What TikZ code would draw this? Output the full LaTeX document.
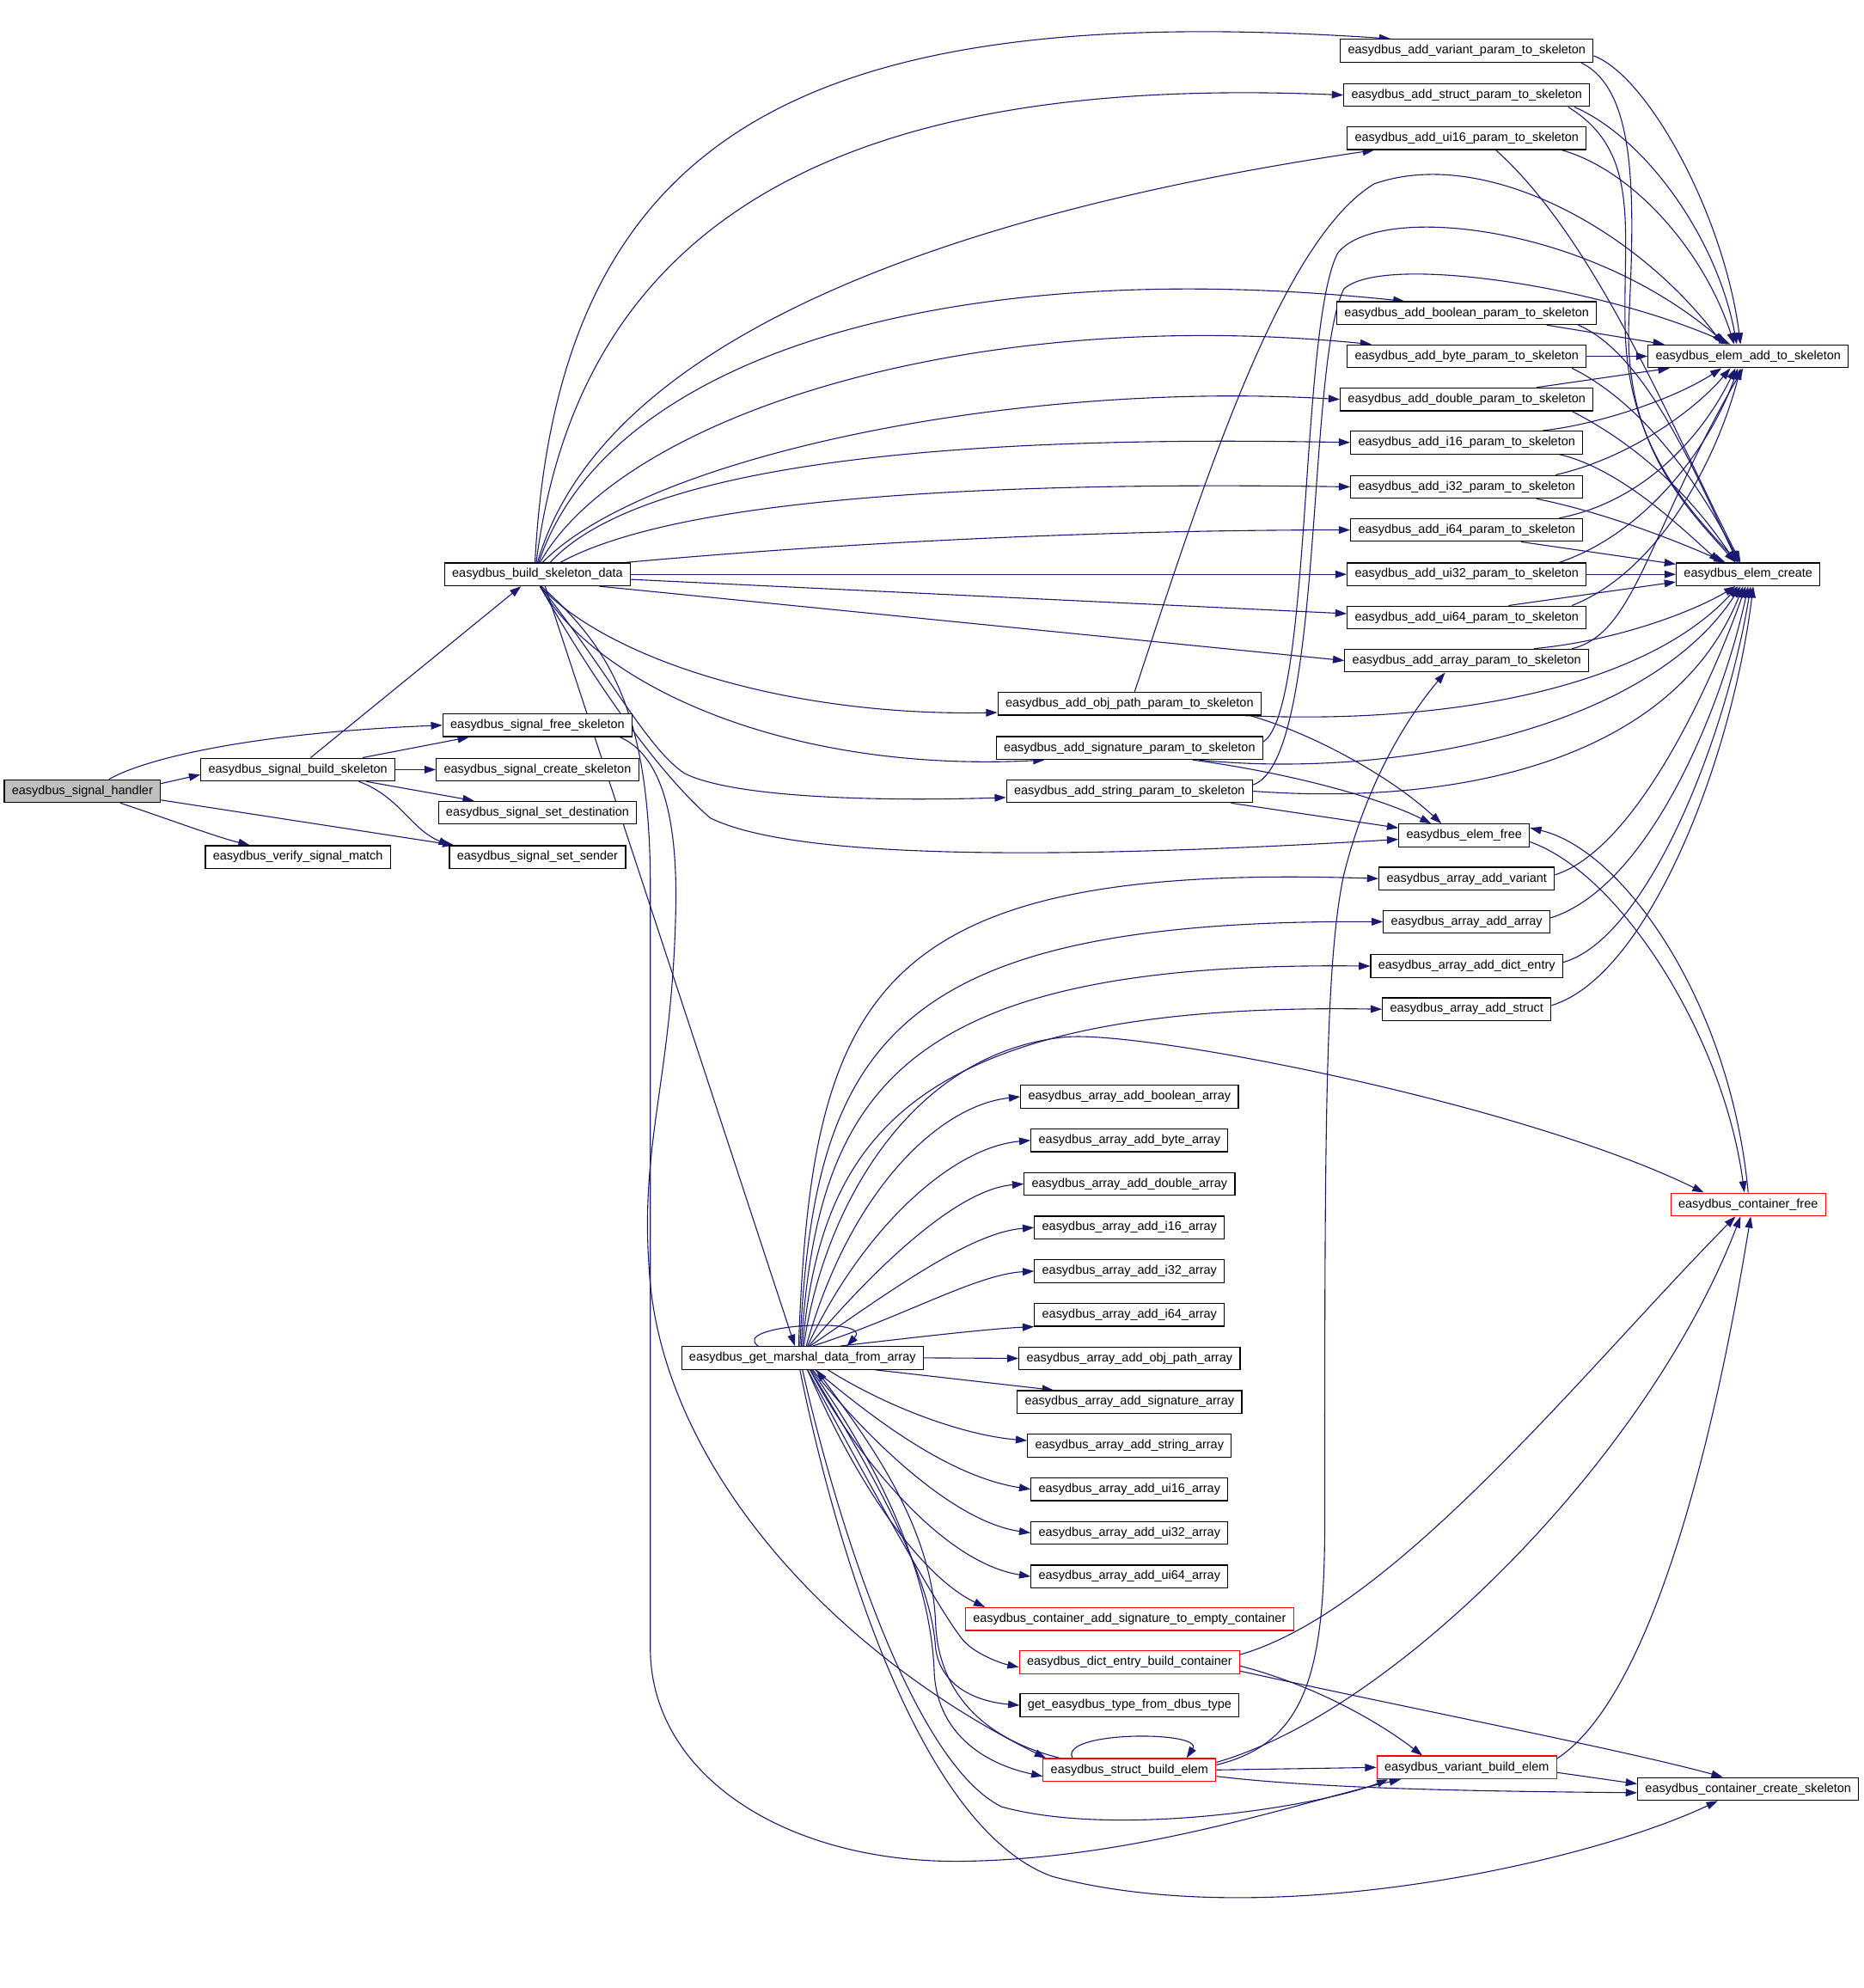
\documentclass[tikz,border=0pt]{standalone}
\usepackage{fontspec}
\setmainfont{Liberation Sans}
\usetikzlibrary{arrows.meta}

\definecolor{callblue}{HTML}{191970}
\definecolor{rootgray}{HTML}{BFBFBF}

\pgfdeclarelayer{edges}
\pgfsetlayers{edges,main}

\tikzset{
  fn/.style={draw=black, fill=white, line width=0.8pt, inner xsep=6pt, inner ysep=0pt,
    minimum height=18pt, font=\fontsize{9.8}{11}\selectfont},
  fnred/.style={fn, draw=red},
  fnroot/.style={fn, fill=rootgray},
  call/.style={draw=callblue, line width=0.75pt, -{Triangle[length=9pt,width=6pt]}},
}

\begin{document}
\begin{tikzpicture}[x=1pt,y=-1pt]
\useasboundingbox (0,0) rectangle (1470,1568);

% callers on the left
\node[fnroot] (handler) at (65,624) {easydbus\_signal\_handler};
\node[fn] (sigbuild) at (235,607) {easydbus\_signal\_build\_skeleton};
\node[fn] (verify) at (235,676) {easydbus\_verify\_signal\_match};
\node[fn] (bsd) at (424,453) {easydbus\_build\_skeleton\_data};
\node[fn] (sigfree) at (424,572) {easydbus\_signal\_free\_skeleton};
\node[fn] (sigcreate) at (424,607) {easydbus\_signal\_create\_skeleton};
\node[fn] (sigdest) at (424,641) {easydbus\_signal\_set\_destination};
\node[fn] (sigsender) at (424,676) {easydbus\_signal\_set\_sender};

% the param_to_skeleton column
\foreach \key/\txt/\ypos in {pvariant/variant/40, pstruct/struct/75, pui16/ui16/109,
    pboolean/boolean/247, pbyte/byte/281, pdouble/double/315, pi16/i16/349,
    pi32/i32/384, pi64/i64/418, pui32/ui32/453, pui64/ui64/487, parray/array/521}
  \node[fn] (\key) at (1157,\ypos) {easydbus\_add\_\txt\_param\_to\_skeleton};

\node[fn] (pobjpath) at (891,555) {easydbus\_add\_obj\_path\_param\_to\_skeleton};
\node[fn] (psignature) at (891,590) {easydbus\_add\_signature\_param\_to\_skeleton};
\node[fn] (pstring) at (891,624) {easydbus\_add\_string\_param\_to\_skeleton};
\node[fn] (elemfree) at (1155,659) {easydbus\_elem\_free};

\foreach \key/\txt/\ypos in {avariant/variant/693, aarray/array/727,
    adict/dict\_entry/762, astruct/struct/796}
  \node[fn] (\key) at (1157,\ypos) {easydbus\_array\_add\_\txt};

\node[fn] (marshal) at (633,1071) {easydbus\_get\_marshal\_data\_from\_array};

\foreach \key/\txt [count=\i from 0] in {abool/boolean, abyte/byte, adouble/double,
    ai16/i16, ai32/i32, ai64/i64, aobjpath/obj\_path, asignature/signature,
    astring/string, aui16/ui16, aui32/ui32, aui64/ui64}
  \node[fn] (\key) at (891,{865+34.4*\i}) {easydbus\_array\_add\_\txt\_array};

\node[fnred] (csig) at (891,1277) {easydbus\_container\_add\_signature\_to\_empty\_container};
\node[fnred] (dictbuild) at (891,1311) {easydbus\_dict\_entry\_build\_container};
\node[fn] (gettype) at (891,1345) {get\_easydbus\_type\_from\_dbus\_type};
\node[fnred] (structbuild) at (891,1396) {easydbus\_struct\_build\_elem};
\node[fnred] (variantbuild) at (1157,1394) {easydbus\_variant\_build\_elem};

% callees on the right
\node[fn] (addtoskel) at (1379,281) {easydbus\_elem\_add\_to\_skeleton};
\node[fn] (elemcreate) at (1379,453) {easydbus\_elem\_create};
\node[fnred] (contfree) at (1379,950) {easydbus\_container\_free};
\node[fn] (contcreate) at (1379,1411) {easydbus\_container\_create\_skeleton};

\begin{pgfonlayer}{edges}
% handler and signal helpers
\draw[call] ([xshift=21pt]handler.north) .. controls (115,598) and (200,578) .. (sigfree.west);
\draw[call] ([yshift=6pt]handler.east) -- ([yshift=-4pt]sigbuild.west);
\draw[call] ([yshift=-7pt]handler.east) -- ([xshift=4pt]sigsender.north west);
\draw[call] ([xshift=30pt]handler.south) .. controls (130,645) and (170,660) .. ([xshift=-38pt]verify.north);
\draw[call] ([xshift=10pt]sigbuild.north) -- ([xshift=-13pt]bsd.south);
\draw[call] ([xshift=51pt]sigbuild.north) -- ([xshift=-54pt]sigfree.south);
\draw[call] (sigbuild.east) -- (sigcreate.west);
\draw[call] ([xshift=54pt]sigbuild.south) -- ([xshift=-50pt]sigdest.north);
\draw[call] ([xshift=48pt]sigbuild.south) .. controls (315,628) and (325,655) .. ([xshift=1pt]sigsender.north west);

% build_skeleton_data fan
\draw[call] ([xshift=-2pt]bsd.north) .. controls (440,100) and (640,0) .. ([xshift=-60pt]pvariant.north);
\draw[call] ([xshift=-1pt]bsd.north) .. controls (460,150) and (700,60) .. (pstruct.west);
\draw[call] (bsd.north) .. controls (480,250) and (800,160) .. ([xshift=-73pt]pui16.south);
\draw[call] ([xshift=1pt]bsd.north) .. controls (480,280) and (750,200) .. ([xshift=-49pt]pboolean.north);
\draw[call] ([xshift=2pt]bsd.north) .. controls (490,330) and (760,240) .. ([xshift=-75pt]pbyte.north);
\draw[call] ([xshift=4pt]bsd.north) .. controls (510,360) and (800,300) .. (pdouble.west);
\draw[call] ([xshift=10pt]bsd.north) .. controls (520,350) and (850,345) .. (pi16.west);
\draw[call] ([xshift=18pt]bsd.north) .. controls (540,390) and (800,380) .. (pi32.west);
\draw[call] ([xshift=-4pt]bsd.north east) .. controls (700,425) and (900,418) .. (pi64.west);
\draw[call] (bsd.east) -- (pui32.west);
\draw[call] ([yshift=-4pt]bsd.east) -- ([yshift=3pt]pui64.west);
\draw[call] ([xshift=-25pt]bsd.south east) -- (parray.west);
\draw[call] ([xshift=2pt]bsd.south) .. controls (480,520) and (620,565) .. ([yshift=-7pt]pobjpath.west);
\draw[call] ([xshift=2pt]bsd.south) .. controls (470,540) and (620,610) .. ([xshift=-67pt]psignature.south);
\draw[call] ([xshift=2pt]bsd.south) .. controls (480,530) and (510,590) .. (540,610)
  .. controls (580,630) and (700,632) .. ([yshift=-5pt]pstring.west);
\draw[call] ([xshift=2pt]bsd.south) .. controls (470,540) and (520,610) .. (560,645)
  .. controls (620,675) and (800,680) .. ([yshift=-3pt]elemfree.west);
\draw[call] ([xshift=6pt]bsd.south) -- ([xshift=-6pt]marshal.north);
\draw[call] ([xshift=3pt]bsd.south) .. controls (480,510) and (513,560) .. (513,700) -- (513,1300)
  .. controls (513,1400) and (620,1470) .. (760,1468)
  .. controls (900,1466) and (1030,1420) .. ([xshift=-52pt]variantbuild.south);
\draw[call] ([xshift=-10pt]sigfree.south east) .. controls (520,595) and (535,640) .. (533,720)
  .. controls (530,850) and (505,900) .. (512,1000)
  .. controls (520,1150) and (650,1300) .. ([xshift=-66pt]structbuild.north);

% get_marshal_data_from_array fan
\draw[call] ([xshift=-35pt]marshal.north) .. controls (575,1045) and (690,1038) .. ([xshift=35pt]marshal.north);
\draw[call] ([xshift=-3pt]marshal.north) .. controls (640,780) and (690,680) .. (avariant.west);
\draw[call] ([xshift=-2pt]marshal.north) .. controls (642,820) and (705,725) .. (aarray.west);
\draw[call] ([xshift=-1pt]marshal.north) .. controls (645,860) and (710,758) .. (adict.west);
\draw[call] (marshal.north) .. controls (648,900) and (715,790) .. (astruct.west);
\draw[call] ([xshift=1pt]marshal.north) .. controls (650,950) and (720,830) .. (840,818)
  .. controls (900,812) and (1200,870) .. ([xshift=-35pt]contfree.north);
\draw[call] ([xshift=3pt]marshal.north) .. controls (670,940) and (740,872) .. (abool.west);
\draw[call] ([xshift=4pt]marshal.north) .. controls (680,970) and (750,905) .. (abyte.west);
\draw[call] ([xshift=5pt]marshal.north) .. controls (690,1000) and (755,938) .. (adouble.west);
\draw[call] ([xshift=6pt]marshal.north) .. controls (700,1020) and (765,972) .. (ai16.west);
\draw[call] ([xshift=8pt]marshal.north) .. controls (710,1040) and (770,1005) .. (ai32.west);
\draw[call] ([xshift=30pt]marshal.north) .. controls (720,1055) and (780,1048) .. (ai64.south west);
\draw[call] (marshal.east) -- (aobjpath.west);
\draw[call] ([xshift=57pt]marshal.south) -- ([xshift=-60pt]asignature.north);
\draw[call] ([xshift=20pt]marshal.south) .. controls (700,1110) and (760,1132) .. ([yshift=4pt]astring.west);
\draw[call] ([xshift=10pt]marshal.south) .. controls (690,1120) and (750,1165) .. (aui16.west);
\draw[call] ([xshift=8pt]marshal.south) .. controls (680,1130) and (750,1200) .. (aui32.west);
\draw[call] ([xshift=6pt]marshal.south) .. controls (670,1140) and (740,1232) .. (aui64.west);
\draw[call] ([xshift=4pt]marshal.south) .. controls (680,1180) and (730,1245) .. ([xshift=-114pt]csig.north);
\draw[call] ([xshift=4pt]marshal.south) .. controls (680,1160) and (740,1270) .. (760,1294)
  .. controls (770,1305) and (790,1312) .. ([yshift=-4pt]dictbuild.west);
\draw[call] ([xshift=6pt]marshal.south) .. controls (700,1180) and (735,1250) .. (738,1300)
  .. controls (742,1330) and (770,1342) .. (gettype.west);
\draw[call] ([xshift=7pt]marshal.south) .. controls (710,1180) and (735,1260) .. (737,1320)
  .. controls (740,1370) and (780,1392) .. ([yshift=-5pt]structbuild.west);
\draw[call] ([xshift=-55pt]structbuild.north) .. controls (770,1370) and (740,1330) .. (738,1280)
  .. controls (735,1200) and (680,1130) .. ([xshift=11pt]marshal.south);
\draw[call] (marshal.south) .. controls (660,1200) and (720,1390) .. (790,1425)
  .. controls (880,1450) and (1040,1425) .. ([xshift=-62pt]variantbuild.south);
\draw[call] ([xshift=-2pt]marshal.south) .. controls (655,1200) and (720,1440) .. (830,1480)
  .. controls (1000,1525) and (1250,1470) .. ([xshift=-24pt]contcreate.south);

% struct, variant and dict entry builders
\draw[call] ([xshift=-45pt]structbuild.north) .. controls (835,1365) and (950,1365) .. ([xshift=45pt]structbuild.north);
\draw[call] (structbuild.east) -- (variantbuild.west);
\draw[call] ([yshift=-5pt]structbuild.east) .. controls (1050,1412) and (1200,1413) .. ([yshift=-3pt]contcreate.west);
\draw[call] ([yshift=4pt]structbuild.east) .. controls (1030,1375) and (1045,1320) .. (1045,1200)
  .. controls (1045,900) and (1045,760) .. (1060,690)
  .. controls (1080,610) and (1115,560) .. ([xshift=-17pt]parray.south);
\draw[call] ([yshift=6pt]structbuild.east) .. controls (1100,1350) and (1300,1150) .. ([xshift=-6pt]contfree.south);
\draw[call] ([yshift=-4pt]variantbuild.east) -- ([yshift=4pt]contcreate.west);
\draw[call] ([yshift=7pt]variantbuild.east) .. controls (1300,1340) and (1350,1150) .. ([xshift=2pt]contfree.south);
\draw[call] ([yshift=6pt]dictbuild.east) .. controls (1100,1270) and (1250,1080) .. ([xshift=-10pt]contfree.south);
\draw[call] ([yshift=-3pt]dictbuild.east) .. controls (1040,1330) and (1090,1360) .. ([xshift=-35pt]variantbuild.north);
\draw[call] ([yshift=-7pt]dictbuild.east) .. controls (1100,1345) and (1280,1380) .. ([xshift=-20pt]contcreate.north);

% elem_free and container_free
\draw[call] ([yshift=-5pt]elemfree.east) .. controls (1280,690) and (1360,820) .. ([xshift=-3pt]contfree.north);
\draw[call] (contfree.north) .. controls (1365,790) and (1280,670) .. ([yshift=6pt]elemfree.east);
\draw[call] ([xshift=95pt]pobjpath.south) .. controls (1040,580) and (1100,615) .. ([xshift=-18pt]elemfree.north);
\draw[call] ([xshift=50pt]psignature.south) .. controls (1020,610) and (1090,630) .. ([xshift=-26pt]elemfree.north);
\draw[call] ([xshift=80pt]pstring.south) -- ([yshift=6pt]elemfree.west);

% obj_path, signature, string params
\draw[call] ([xshift=4pt]pobjpath.north) .. controls (950,380) and (1010,190) .. (1084,145)
  .. controls (1170,115) and (1290,180) .. ([xshift=-20pt]addtoskel.north);
\draw[call] ([yshift=5pt]psignature.east) .. controls (1035,560) and (1025,260) .. (1055,200)
  .. controls (1085,160) and (1250,175) .. ([xshift=-17pt]addtoskel.north);
\draw[call] ([yshift=5pt]pstring.east) .. controls (1045,600) and (1030,290) .. (1060,228)
  .. controls (1090,200) and (1260,225) .. ([xshift=-14pt]addtoskel.north);
\draw[call] ([xshift=90pt]pobjpath.south) .. controls (1150,572) and (1300,540) .. ([xshift=-8pt]elemcreate.south);
\draw[call] ([xshift=55pt]psignature.south) .. controls (1100,615) and (1300,575) .. ([xshift=-6pt]elemcreate.south);
\draw[call] (pstring.east) .. controls (1150,636) and (1320,600) .. ([xshift=-4pt]elemcreate.south);

% array_add helpers
\draw[call] ([yshift=3pt]avariant.east) .. controls (1290,670) and (1350,540) .. ([xshift=-2pt]elemcreate.south);
\draw[call] ([yshift=3pt]aarray.east) .. controls (1300,700) and (1358,560) .. (elemcreate.south);
\draw[call] ([yshift=3pt]adict.east) .. controls (1300,740) and (1362,580) .. ([xshift=2pt]elemcreate.south);
\draw[call] ([yshift=3pt]astruct.east) .. controls (1300,770) and (1366,600) .. ([xshift=4pt]elemcreate.south);

% param_to_skeleton -> elem_add_to_skeleton / elem_create
\draw[call] ([yshift=-4pt]pvariant.east) .. controls (1300,60) and (1360,170) .. ([xshift=-6pt]addtoskel.north);
\draw[call] ([xshift=90pt]pvariant.south) .. controls (1290,70) and (1290,150) .. (1285,250)
  .. controls (1280,350) and (1330,400) .. ([xshift=-10pt]elemcreate.north);
\draw[call] ([xshift=85pt]pstruct.south) .. controls (1300,110) and (1355,190) .. ([xshift=-9pt]addtoskel.north);
\draw[call] ([xshift=80pt]pstruct.south) .. controls (1295,120) and (1280,180) .. (1282,260)
  .. controls (1284,350) and (1330,400) .. ([xshift=-8pt]elemcreate.north);
\draw[call] ([xshift=75pt]pui16.south) .. controls (1290,135) and (1345,200) .. ([xshift=-11pt]addtoskel.north);
\draw[call] ([xshift=23pt]pui16.south) .. controls (1260,190) and (1320,340) .. ([xshift=-6pt]elemcreate.north);
\draw[call] ([xshift=63pt]pboolean.south) -- ([xshift=-66pt]addtoskel.north);
\draw[call] ([xshift=88pt]pboolean.south) .. controls (1300,280) and (1340,380) .. ([xshift=-8pt]elemcreate.north);
\draw[call] (pbyte.east) -- (addtoskel.west);
\draw[call] ([xshift=83pt]pbyte.south) .. controls (1300,320) and (1345,390) .. ([xshift=-7pt]elemcreate.north);
\draw[call] ([xshift=55pt]pdouble.north) -- ([xshift=-62pt]addtoskel.south);
\draw[call] ([xshift=83pt]pdouble.south) .. controls (1300,355) and (1340,400) .. ([xshift=-10pt]elemcreate.north);
\draw[call] ([xshift=60pt]pi16.north) .. controls (1260,335) and (1320,315) .. ([xshift=-21pt]addtoskel.south);
\draw[call] ([xshift=73pt]pi16.south) .. controls (1280,370) and (1330,420) .. ([xshift=-22pt]elemcreate.north);
\draw[call] ([xshift=70pt]pi32.north) .. controls (1290,360) and (1340,320) .. ([xshift=-14pt]addtoskel.south);
\draw[call] ([xshift=55pt]pi32.south) .. controls (1270,405) and (1330,430) .. ([xshift=-18pt]elemcreate.north);
\draw[call] ([xshift=73pt]pi64.north) .. controls (1300,395) and (1345,340) .. ([xshift=-10pt]addtoskel.south);
\draw[call] ([xshift=43pt]pi64.south) -- ([yshift=8pt]elemcreate.west);
\draw[call] ([xshift=73pt]pui32.north) .. controls (1300,420) and (1350,350) .. ([xshift=-8pt]addtoskel.south);
\draw[call] (pui32.east) -- (elemcreate.west);
\draw[call] ([xshift=83pt]pui64.north) .. controls (1310,450) and (1355,360) .. ([xshift=-6pt]addtoskel.south);
\draw[call] ([xshift=33pt]pui64.north) -- ([yshift=-6pt]elemcreate.west);
\draw[call] ([xshift=83pt]parray.north) .. controls (1290,500) and (1300,420) .. ([xshift=-4pt]addtoskel.south);
\draw[call] ([xshift=53pt]parray.north) .. controls (1280,505) and (1340,480) .. ([xshift=-10pt]elemcreate.south);
\end{pgfonlayer}
\end{tikzpicture}
\end{document}
